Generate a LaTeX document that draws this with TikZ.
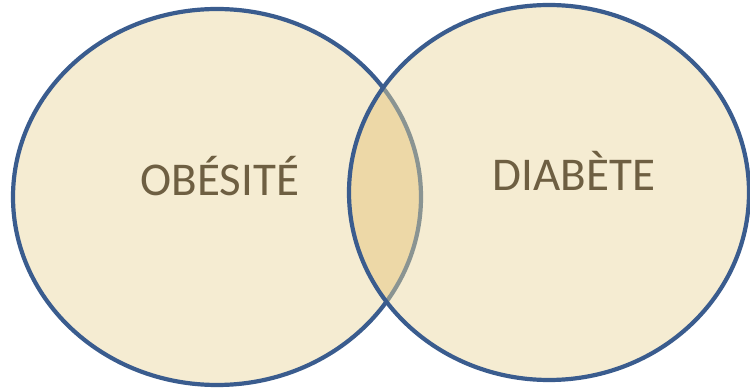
\documentclass[tikz,border=0pt]{standalone}
\usepackage{fontspec}
\setmainfont{Carlito}
\definecolor{parch}{RGB}{245,236,210}
\definecolor{lens}{RGB}{237,216,167}
\definecolor{rim}{RGB}{58,92,142}
\definecolor{rimgrey}{RGB}{138,148,146}
\definecolor{txt}{RGB}{110,95,66}
\tikzset{
  rimline/.style={line width=4.2pt, draw=rim},
  label/.style={text=txt, font=\fontsize{47}{56}\selectfont, anchor=base, inner sep=0pt}
}
\begin{document}
\begin{tikzpicture}[x=1pt,y=1pt]
\useasboundingbox (0,0) rectangle (750,388);
\fill[white] (0,0) rectangle (750,388);
\coordinate (lc) at (217,191);
\coordinate (rc) at (549,195.5);
% left circle
\fill[parch] (lc) ellipse [x radius=204, y radius=188];
\draw[rimline] (lc) ellipse [x radius=204, y radius=188];
% right circle fill
\fill[parch] (rc) ellipse [x radius=200, y radius=187.5];
% lens
\begin{scope}
  \clip (lc) ellipse [x radius=204, y radius=188];
  \fill[lens] (rc) ellipse [x radius=200, y radius=187.5];
\end{scope}
% left rim seen through right circle
\begin{scope}
  \clip (rc) ellipse [x radius=200, y radius=187.5];
  \draw[line width=4.2pt, draw=rimgrey] (lc) ellipse [x radius=204, y radius=188];
\end{scope}
\draw[rimline] (rc) ellipse [x radius=200, y radius=187.5];
\node[label] (ob) at (220,192) {OBÉSITÉ};
\node[label] (di) at (574,197) {DIABÈTE};
\end{tikzpicture}
\end{document}
